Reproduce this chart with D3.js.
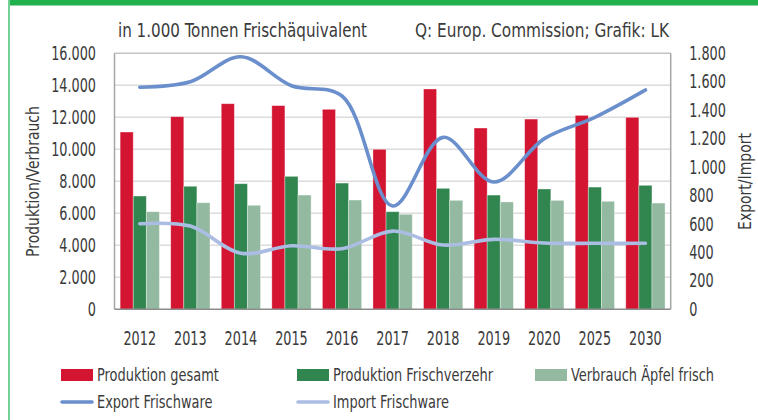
<!DOCTYPE html>
<html>
<head>
<meta charset="utf-8">
<script src="https://cdn.jsdelivr.net/npm/d3@7"></script>
<style>
	body { margin: 0; background: #fff; }
	svg text { font-family: "Liberation Sans Narrow", "DejaVu Sans Condensed", sans-serif; fill: #3b3b3b; }
</style>
</head>
<body>
<div id="graph"></div>
<script>
// chart data (1.000 t Frischäquivalent)
const years = ["2012", "2013", "2014", "2015", "2016", "2017", "2018", "2019", "2020", "2025", "2030"];
const produktionGesamt = [11080, 12040, 12850, 12730, 12500, 10000, 13770, 11330, 11890, 12120, 12000];
const produktionFrisch = [7080, 7690, 7850, 8310, 7890, 6100, 7560, 7140, 7520, 7640, 7750];
const verbrauchFrisch = [6100, 6660, 6500, 7140, 6830, 5940, 6810, 6710, 6810, 6750, 6640];
const exportFrisch = [1561, 1600, 1776, 1572, 1500, 726, 1209, 895, 1200, 1350, 1542];
const importFrisch = [602, 585, 394, 447, 426, 550, 452, 492, 466, 464, 464];

const leftTicks = [0, 2000, 4000, 6000, 8000, 10000, 12000, 14000, 16000];
const rightTicks = [0, 200, 400, 600, 800, 1000, 1200, 1400, 1600, 1800];

const barSeries = [
	{name: "Produktion gesamt", values: produktionGesamt, color: "#d31532"},
	{name: "Produktion Frischverzehr", values: produktionFrisch, color: "#318650"},
	{name: "Verbrauch Äpfel frisch", values: verbrauchFrisch, color: "#93b9a0"}
];
const lineSeries = [
	{name: "Export Frischware", values: exportFrisch, color: "#6a8fcc"},
	{name: "Import Frischware", values: importFrisch, color: "#abbde3"}
];

const width = 758, height = 420;
const padding = {left: 114.5, right: 87.3, top: 53.3, bottom: 110.7};

const de = d3.formatLocale({decimal: ",", thousands: ".", grouping: [3], currency: ["", " €"]});
const fmt = de.format(",d");

let graph, xScale, xInner, yScale, y2Scale;

// the reference uses a very narrow font, so squeeze the glyphs horizontally
function squeeze(sel, k) {
	sel.each(function() {
		const w = this.getComputedTextLength();
		d3.select(this).attr("textLength", w * k).attr("lengthAdjust", "spacingAndGlyphs");
	});
}

function setUp() {
	graph = d3.select("div#graph")
		.append("svg")
		.attr("width", width)
		.attr("height", height);

	// green frame of the page
	graph.append("rect").attr("x", 8).attr("y", 0).attr("width", width - 8).attr("height", 5.5).attr("fill", "#21b14c");
	graph.append("rect").attr("x", 8).attr("y", 0).attr("width", 2).attr("height", height).attr("fill", "#74d195");

	xScale = d3.scaleBand()
		.domain(years)
		.range([padding.left, width - padding.right]);

	xInner = d3.scaleBand()
		.domain(barSeries.map(d => d.name))
		.range([0, xScale.bandwidth()])
		.paddingOuter(0.43);

	yScale = d3.scaleLinear()
		.domain([0, 16000])
		.range([height - padding.bottom, padding.top]);

	y2Scale = d3.scaleLinear()
		.domain([0, 1800])
		.range([height - padding.bottom, padding.top]);
}

function drawChart() {
	// gridlines
	graph.append("g")
		.selectAll("line")
		.data(leftTicks.slice(1))
		.enter().append("line")
		.attr("x1", padding.left).attr("x2", width - padding.right)
		.attr("y1", d => yScale(d)).attr("y2", d => yScale(d))
		.attr("stroke", d => d == 16000 ? "#c4c4c4" : "#dcdcdc")
		.attr("stroke-width", 1.5);

	// bars
	barSeries.forEach(s => {
		graph.append("g")
			.selectAll("rect")
			.data(s.values)
			.enter().append("rect")
			.attr("x", (d, i) => xScale(years[i]) + xInner(s.name))
			.attr("y", d => yScale(d))
			.attr("width", xInner.bandwidth())
			.attr("height", d => yScale(0) - yScale(d))
			.attr("fill", s.color)
			.attr("stroke", "#fff")
			.attr("stroke-opacity", 0.45)
			.attr("stroke-width", 0.8);
	});

	// frame lines
	graph.append("line")
		.attr("x1", padding.left).attr("x2", padding.left)
		.attr("y1", padding.top).attr("y2", yScale(0))
		.attr("stroke", "#a6a6a6").attr("stroke-width", 1.5);
	graph.append("line")
		.attr("x1", width - padding.right).attr("x2", width - padding.right)
		.attr("y1", padding.top).attr("y2", yScale(0))
		.attr("stroke", "#a6a6a6").attr("stroke-width", 1.5);
	graph.append("line")
		.attr("x1", padding.left).attr("x2", width - padding.right)
		.attr("y1", yScale(0)).attr("y2", yScale(0))
		.attr("stroke", "#8c8c8c").attr("stroke-width", 1.5);

	// export / import lines on the right axis
	const line = d3.line()
		.curve(d3.curveCatmullRom.alpha(0.5))
		.x((d, i) => xScale(years[i]) + xScale.bandwidth() / 2)
		.y(d => y2Scale(d));

	lineSeries.forEach(s => {
		graph.append("path").datum(s.values)
			.attr("fill", "none")
			.attr("stroke", s.color)
			.attr("stroke-width", 3.6)
			.attr("stroke-linecap", "round")
			.attr("stroke-linejoin", "round")
			.attr("d", line);
	});

	// axes
	const yAxis = d3.axisLeft(yScale).tickValues(leftTicks).tickSize(0).tickPadding(18.5).tickFormat(fmt);
	const y2Axis = d3.axisRight(y2Scale).tickValues(rightTicks).tickSize(0).tickPadding(18.5).tickFormat(fmt);
	const xAxis = d3.axisBottom(xScale).tickSize(0).tickPadding(22);

	[
		graph.append("g").attr("transform", `translate(${padding.left},0)`).call(yAxis),
		graph.append("g").attr("transform", `translate(${width - padding.right},0)`).call(y2Axis),
		graph.append("g").attr("transform", `translate(0,${yScale(0)})`).call(xAxis)
	].forEach(g => {
		g.select(".domain").remove();
		g.selectAll("text").attr("font-size", 19).style("fill", "#3b3b3b").attr("font-family", null)
			.call(squeeze, 0.75);
	});

	// axis titles
	graph.append("text")
		.attr("transform", "translate(33,181.5) rotate(-90)")
		.attr("text-anchor", "middle").attr("dy", "0.35em")
		.attr("font-size", 18.5)
		.text("Produktion/Verbrauch")
		.call(squeeze, 0.84);
	graph.append("text")
		.attr("transform", "translate(745,181.5) rotate(-90)")
		.attr("text-anchor", "middle").attr("dy", "0.35em")
		.attr("font-size", 18.5)
		.text("Export/Import")
		.call(squeeze, 0.84);

	// header texts
	graph.append("text").attr("x", 118).attr("y", 37).attr("font-size", 19.5)
		.attr("textLength", 249).attr("lengthAdjust", "spacingAndGlyphs")
		.text("in 1.000 Tonnen Frischäquivalent");
	graph.append("text").attr("x", 415).attr("y", 37).attr("font-size", 19.5)
		.attr("textLength", 254).attr("lengthAdjust", "spacingAndGlyphs")
		.text("Q: Europ. Commission; Grafik: LK");

	// legend
	const legendCols = [61, 297, 535];
	const legend = graph.selectAll(".legend")
		.data(barSeries.concat(lineSeries))
		.enter().append("g")
		.attr("class", "legend")
		.attr("transform", (d, i) => `translate(${legendCols[i % 3]},${i < 3 ? 375 : 402})`);

	legend.filter((d, i) => i < 3).append("rect")
		.attr("x", 0).attr("y", -6)
		.attr("width", 32).attr("height", 12)
		.attr("fill", d => d.color);

	legend.filter((d, i) => i >= 3).append("line")
		.attr("x1", 1).attr("x2", 31)
		.attr("stroke", d => d.color)
		.attr("stroke-width", 3.6)
		.attr("stroke-linecap", "round");

	legend.append("text")
		.attr("x", 36)
		.attr("dy", "0.35em")
		.attr("font-size", 18)
		.text(d => d.name)
		.call(squeeze, 0.8);
}

setUp();
drawChart();
</script>
</body>
</html>
